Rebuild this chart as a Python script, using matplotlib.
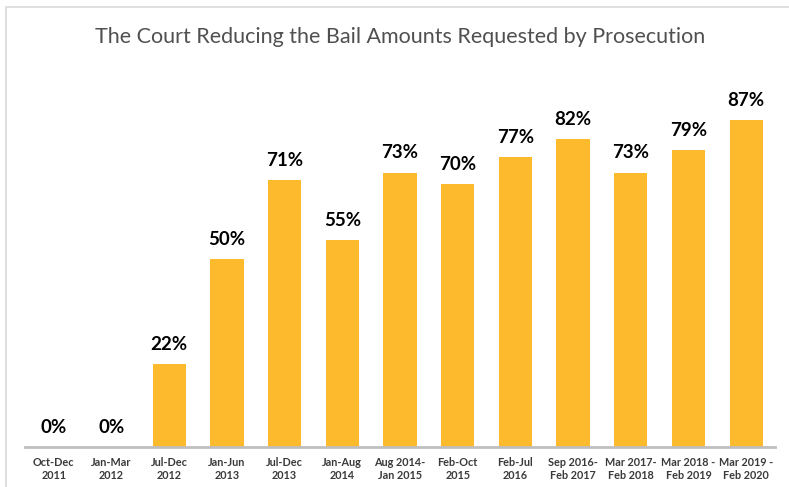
import matplotlib
matplotlib.use("Agg")
import matplotlib.pyplot as plt
from matplotlib.patches import Rectangle

periods = ["Oct-Dec\n2011", "Jan-Mar\n2012", "Jul-Dec\n2012", "Jan-Jun\n2013",
           "Jul-Dec\n2013", "Jan-Aug\n2014", "Aug 2014-\nJan 2015", "Feb-Oct\n2015",
           "Feb-Jul\n2016", "Sep 2016-\nFeb 2017", "Mar 2017-\nFeb 2018",
           "Mar 2018 -\nFeb 2019", "Mar 2019 -\nFeb 2020"]
reduced_pct = [0, 0, 22, 50, 71, 55, 73, 70, 77, 82, 73, 79, 87]

W, H = 789, 487
fig = plt.figure(figsize=(W / 100, H / 100), dpi=100)
fig.patch.set_facecolor("white")

# light frame around the chart area
fig.add_artist(Rectangle((6 / W, -0.05), 1.2, 1.05 - 7 / H, transform=fig.transFigure,
                         fill=False, edgecolor="#D9D9D9", linewidth=1.2))

ax = fig.add_axes([25 / W, 1 - 447 / H, 750 / W, 376 / H])
x = range(len(periods))
ax.bar(x, reduced_pct, width=0.575, color="#FCBA2C", zorder=2)

for xi, v in zip(x, reduced_pct):
    ax.annotate(f"{v}%", (xi, v), xytext=(0, 8), textcoords="offset points",
                ha="center", va="bottom", fontsize=13.5, fontweight="bold",
                family="Lato", color="#000000")

ax.set_xlim(-0.5, len(periods) - 0.5)
ax.set_ylim(0, 100)
ax.set_yticks([])
ax.set_xticks(list(x))
ax.set_xticklabels(periods, fontsize=7.8, fontweight="bold", family="Lato",
                   color="#3A3A3A", linespacing=1.3)
ax.tick_params(axis="x", length=0, pad=7)
for side in ("top", "right", "left"):
    ax.spines[side].set_visible(False)
ax.spines["bottom"].set_color("#BFBFBF")
ax.spines["bottom"].set_linewidth(2)

fig.text(400 / W, 1 - 37 / H, "The Court Reducing the Bail Amounts Requested by Prosecution",
         ha="center", va="center", fontsize=15.5, family="Lato", color="#505050")

fig.savefig("out.png", dpi=100, facecolor="white")
